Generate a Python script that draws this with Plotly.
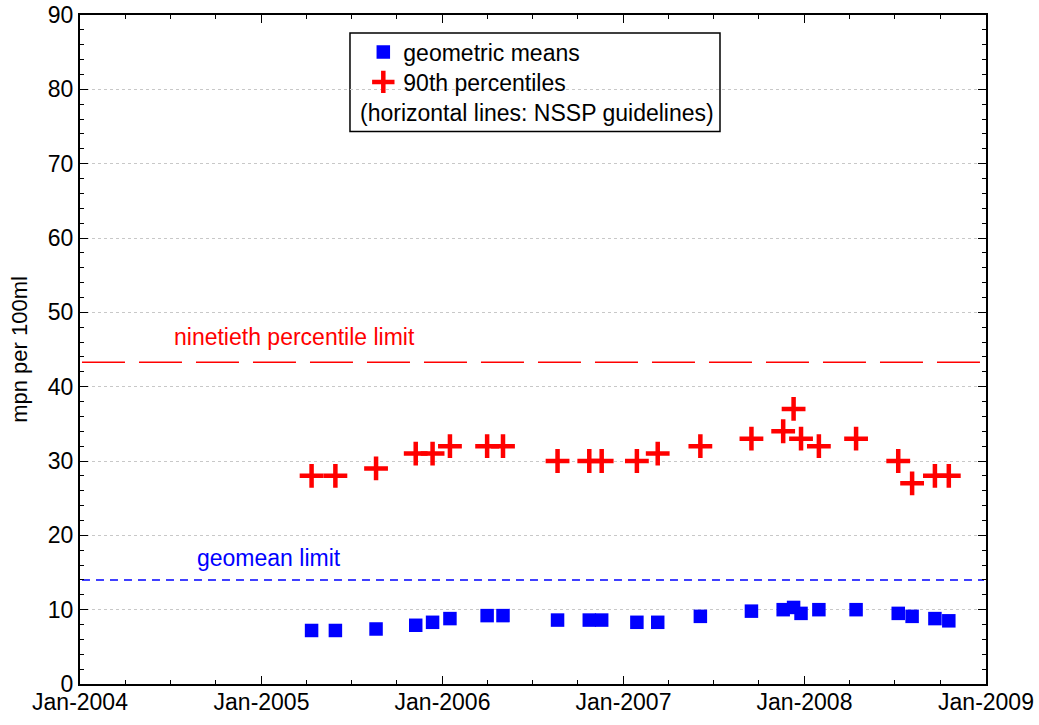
import plotly.graph_objects as go

dates = ["2005-04-12", "2005-05-30", "2005-08-20", "2005-11-08", "2005-12-12",
         "2006-01-16", "2006-04-01", "2006-05-03", "2006-08-21", "2006-10-24",
         "2006-11-18", "2007-01-28", "2007-03-11", "2007-06-05", "2007-09-16",
         "2007-11-19", "2007-12-10", "2007-12-25", "2008-01-30", "2008-04-14",
         "2008-07-08", "2008-08-05", "2008-09-20", "2008-10-18"]
geomeans = [7.2, 7.2, 7.4, 7.9, 8.3, 8.8, 9.2, 9.2, 8.6, 8.6, 8.6, 8.3, 8.3,
            9.1, 9.8, 10.0, 10.3, 9.5, 10.0, 10.0, 9.5, 9.1, 8.8, 8.5]
p90 = [28, 28, 29, 31, 31, 32, 32, 32, 30, 30, 30, 30, 31,
       32, 33, 34, 37, 33, 32, 33, 30, 27, 28, 28]
geomean_limit = 14
p90_limit = 43.3
x_range = ["2004-01-01", "2009-01-01"]
line_x = ["2004-01-05", "2008-12-28"]
tick_vals = ["2004-01-01", "2005-01-01", "2006-01-01", "2007-01-01", "2008-01-01", "2009-01-01"]
tick_text = ["Jan-2004", "Jan-2005", "Jan-2006", "Jan-2007", "Jan-2008", "Jan-2009"]

FONT = "Liberation Sans, Arial, sans-serif"
FS = 23

fig = go.Figure()
fig.add_trace(go.Scatter(x=line_x, y=[p90_limit] * 2, mode="lines",
                         line=dict(color="red", width=1.5, dash="43px,14px"),
                         showlegend=False, hoverinfo="skip"))
fig.add_trace(go.Scatter(x=line_x, y=[geomean_limit] * 2, mode="lines",
                         line=dict(color="blue", width=1.5, dash="8px,6px"),
                         showlegend=False, hoverinfo="skip"))
fig.add_trace(go.Scatter(x=dates, y=geomeans, mode="markers", name="geometric means",
                         legend="legend",
                         marker=dict(symbol="square", size=13.5, color="blue",
                                     line=dict(width=0))))
fig.add_trace(go.Scatter(x=dates, y=p90, mode="markers", name="90th percentiles",
                         legend="legend2",
                         marker=dict(symbol="cross-thin", size=17, color="red",
                                     line=dict(width=4.5, color="red"))))

fig.add_annotation(x="2005-03-09", y=46.7, text="ninetieth percentile limit",
                   showarrow=False, font=dict(color="red", size=FS, family=FONT))
fig.add_annotation(x="2005-01-16", y=17.0, text="geomean limit",
                   showarrow=False, font=dict(color="blue", size=FS, family=FONT))
fig.add_annotation(xref="paper", yref="paper", x=0.307, y=0.8535, xanchor="left",
                   yanchor="middle", text="(horizontal lines: NSSP guidelines)",
                   showarrow=False, font=dict(color="black", size=FS, family=FONT))
fig.add_shape(type="rect", xref="paper", yref="paper", x0=0.298, x1=0.7064,
              y0=0.826, y1=0.973, line=dict(color="black", width=1.5),
              fillcolor="white", layer="below")

leg_common = dict(xanchor="left", yanchor="middle", bgcolor="rgba(0,0,0,0)",
                  borderwidth=0, font=dict(size=FS, family=FONT))

fig.update_layout(
    width=1039, height=725,
    margin=dict(l=80, r=53, t=15, b=41),
    paper_bgcolor="white", plot_bgcolor="white",
    font=dict(family=FONT, size=FS, color="black"),
    legend=dict(x=0.3127, y=0.9447, **leg_common),
    legend2=dict(x=0.3127, y=0.8999, **leg_common),
    xaxis=dict(type="date", range=x_range, tickvals=tick_vals, ticktext=tick_text,
               ticks="inside", ticklen=8, tickwidth=1, tickcolor="black",
               showline=True, linecolor="black", linewidth=2, mirror="ticks",
               showgrid=False, zeroline=False, automargin=False,
               ticklabelstandoff=-4, ticklabeloverflow="allow",
               minor=dict(dtick="M3", tick0="2004-01-01", ticks="inside", ticklen=4,
                          tickcolor="black", showgrid=False)),
    yaxis=dict(range=[0, 90], dtick=10, ticks="inside", ticklen=8, tickwidth=1,
               tickcolor="black", showline=True, linecolor="black", linewidth=2,
               mirror="ticks", showgrid=True, gridcolor="#c8c8c8", griddash="dot",
               gridwidth=1, zeroline=False, automargin=False,
               ticklabeloverflow="allow",
               title=dict(text="mpn per 100ml", font=dict(size=FS - 1), standoff=14),
               minor=dict(dtick=2, ticks="inside", ticklen=4, tickcolor="black",
                          showgrid=False)),
)

fig.write_html("out.html", config={"displayModeBar": False},
               post_script="document.body.style.margin='0px';document.body.style.overflow='hidden';")
